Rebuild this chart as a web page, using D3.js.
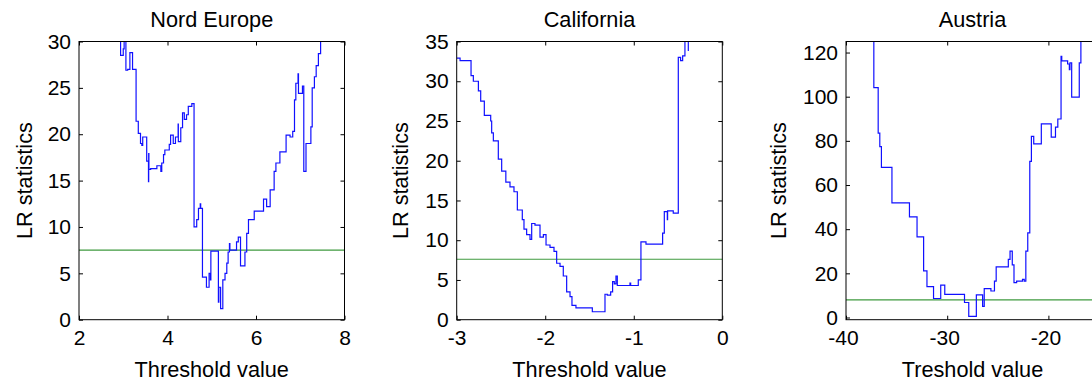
<!DOCTYPE html>
<html lang="en">
<head>
<meta charset="UTF-8">
<title>LR statistics</title>
<script src="https://d3js.org/d3.v7.min.js"></script>
<style>
  body { margin: 0; background: #fff; }
  svg text { font-family: "Liberation Sans", Arial, sans-serif; fill: #000; }
</style>
</head>
<body>
<div id="chart"></div>
<script>

// Nord Europe: threshold value / LR statistic (step values)
const neX = [2.94, 2.94, 3.00, 3.02, 3.06, 3.10, 3.15, 3.21, 3.27, 3.29, 3.34, 3.39, 3.42, 3.44, 3.53, 3.57, 3.575,
  3.58, 3.62, 3.76, 3.85, 3.87, 3.91, 3.94, 4.04, 4.07, 4.13, 4.18, 4.24, 4.245, 4.30, 4.34, 4.38, 4.43, 4.47,
  4.55, 4.60, 4.66, 4.70, 4.74, 4.75, 4.79, 4.88, 4.94, 4.97, 4.98, 5.15, 5.16, 5.20, 5.25, 5.30, 5.34, 5.37,
  5.40, 5.41, 5.56, 5.60, 5.65, 5.75, 5.79, 5.83, 5.96, 6.17, 6.24, 6.32, 6.41, 6.45, 6.54, 6.68, 6.77, 6.83,
  6.87, 6.90, 6.95, 6.96, 7.05, 7.08, 7.13, 7.24, 7.27, 7.32, 7.36, 7.41, 7.46];
const neY = [31, 28.5, 29.2, 31, 26.9, 27.0, 28.8, 27.0, 27.0, 21.4, 20.1, 19.0, 18.8, 19.7, 17.1, 14.9, 17.9,
  16.2, 16.3, 16.6, 16.0, 16.9, 17.8, 18.3, 18.9, 19.9, 19.0, 19.7, 21.1, 19.2, 20.7, 22.3, 21.6, 22.1, 23.0,
  23.3, 10.0, 10.8, 12.0, 12.5, 12.0, 4.6, 3.5, 5.0, 4.3, 7.4, 1.9, 3.5, 1.2, 4.3, 5.0, 6.1, 7.3,
  8.2, 7.5, 8.4, 8.9, 5.8, 7.3, 9.3, 10.8, 11.7, 13.0, 12.2, 14.0, 16.0, 16.9, 18.1, 19.9, 19.7, 20.3,
  23.7, 25.5, 26.5, 24.4, 25.2, 16.0, 19.0, 20.8, 25.0, 26.2, 27.4, 28.7, 31];

// California
const caX = [-3.0, -2.962, -2.838, -2.812, -2.755, -2.729, -2.688, -2.616, -2.605, -2.586, -2.530, -2.492, -2.445,
  -2.398, -2.353, -2.315, -2.259, -2.240, -2.210, -2.172, -2.153, -2.116, -2.059, -2.021, -1.991, -1.946, -1.901,
  -1.871, -1.833, -1.796, -1.758, -1.720, -1.698, -1.653, -1.468, -1.325, -1.299, -1.261, -1.239, -1.220, -1.201,
  -1.186, -1.043, -1.035, -0.949, -0.919, -0.862, -0.674, -0.655, -0.621, -0.618, -0.554, -0.497, -0.471, -0.448,
  -0.422, -0.384];
const caY = [32.9, 32.6, 30.7, 30.0, 28.8, 27.5, 25.7, 25.0, 23.5, 22.5, 20.2, 18.7, 17.3,
  16.7, 16.1, 13.8, 12.6, 11.4, 10.7, 10.1, 12.1, 11.9, 10.4, 10.7, 9.4, 9.1, 8.6,
  7.1, 6.7, 5.5, 3.5, 2.9, 1.8, 1.5, 1.0, 3.2, 3.1, 3.5, 4.8, 4.5, 5.5,
  4.3, 4.6, 4.3, 5.0, 9.8, 9.5, 10.9, 13.6, 12.6, 13.7, 13.4, 33.0, 32.6, 33.2,
  35.0, 33.8];

// Austria
const atX = [-37.25, -37.25, -36.82, -36.66, -36.50, -35.46, -33.73, -32.98, -32.33, -32.00, -31.35, -30.64, -30.24,
  -28.29, -27.87, -27.12, -26.50, -26.34, -25.68, -25.33, -25.16, -23.96, -23.79, -23.57, -23.40, -23.14, -22.56,
  -22.39, -22.23, -22.04, -21.84, -21.68, -21.45, -20.70, -19.72, -19.30, -19.07, -18.75, -18.68, -18.10, -17.93,
  -17.87, -17.70, -16.95, -16.79];
const atY = [130, 104.1, 83.5, 77.4, 68.0, 51.9, 45.6, 36.5, 21.1, 14.0, 8.6, 14.7, 10.5,
  6.8, 0.5, 10.2, 5.0, 13.1, 12.0, 16.5, 22.9, 26.3, 30.1, 23.8, 15.8, 16.5, 17.3,
  16.5, 30.1, 38.3, 70.7, 82.0, 78.6, 87.7, 81.7, 86.2, 89.9, 118.3, 116.2, 114.8, 112.3,
  115.3, 99.8, 115.3, 130];

const titles = ["Nord Europe", "California", "Austria"];
const xLabels = ["Threshold value", "Threshold value", "Treshold value"];
const critValues = [7.5, 7.6, 8.0];
const xDomains = [[2, 8], [-3, 0], [-40, -15]];
const yDomains = [[0, 30], [0, 35], [-1, 125]];
const xTickVals = [[2, 4, 6, 8], [-3, -2, -1, 0], [-40, -30, -20]];
const yTickVals = [[0, 5, 10, 15, 20, 25, 30], [0, 5, 10, 15, 20, 25, 30, 35], [0, 20, 40, 60, 80, 100, 120]];

const seriesX = [neX, caX, atX];
const seriesY = [neY, caY, atY];

// layout of the three axes boxes
const boxes = [
  { left: 79, right: 344.5 },
  { left: 456.7, right: 722.3 },
  { left: 846, right: 1099 }
];
const boxTop = 41.5, boxBottom = 319.7;

const svg = d3.select("#chart")
  .append("svg")
  .attr("width", 1092)
  .attr("height", 383);

boxes.forEach(function (b, i) {
  const w = b.right - b.left, h = boxBottom - boxTop;
  const g = svg.append("g").attr("transform", `translate(${b.left}, ${boxTop})`);

  const x = d3.scaleLinear().domain(xDomains[i]).range([0, w]);
  const y = d3.scaleLinear().domain(yDomains[i]).range([h, 0]);

  g.append("clipPath").attr("id", "clip" + i)
    .append("rect").attr("width", w).attr("height", h);

  // critical value line
  g.append("line")
    .attr("x1", 0).attr("x2", w)
    .attr("y1", y(critValues[i])).attr("y2", y(critValues[i]))
    .attr("stroke", "#3f9a3f")
    .attr("stroke-width", 1.1);

  const pts = seriesX[i].map((v, k) => [v, seriesY[i][k]]);
  const line = d3.line()
    .x(d => x(d[0]))
    .y(d => y(d[1]))
    .curve(d3.curveStepAfter);

  g.append("path")
    .datum(pts)
    .attr("clip-path", `url(#clip${i})`)
    .attr("fill", "none")
    .attr("stroke", "#1010ff")
    .attr("stroke-width", 1.2)
    .attr("d", line);

  // axes, ticks pointing inward on all four sides
  const xb = g.append("g").attr("transform", `translate(0, ${h})`)
    .call(d3.axisBottom(x).tickValues(xTickVals[i]).tickSizeInner(-4).tickSizeOuter(0).tickPadding(10.5));
  const yl = g.append("g")
    .call(d3.axisLeft(y).tickValues(yTickVals[i]).tickSizeInner(-4).tickSizeOuter(0).tickPadding(8));
  const xt = g.append("g")
    .call(d3.axisTop(x).tickValues(xTickVals[i]).tickSizeInner(-4).tickSizeOuter(0).tickFormat(""));
  const yr = g.append("g").attr("transform", `translate(${w}, 0)`)
    .call(d3.axisRight(y).tickValues(yTickVals[i]).tickSizeInner(-4).tickSizeOuter(0).tickFormat(""));

  [xb, yl, xt, yr].forEach(a => {
    a.select(".domain").remove();
    a.selectAll("line").attr("stroke", "#000");
    a.selectAll("text").attr("font-size", 21).attr("fill", "#000")
      .attr("font-family", "'Liberation Sans', Arial, sans-serif");
  });
  xb.selectAll("text").text(d => d < 0 ? "-" + Math.abs(d) : d);
  if (i === 2) xb.selectAll("text").attr("dx", -3);

  g.append("rect")
    .attr("width", w).attr("height", h)
    .attr("fill", "none")
    .attr("stroke", "#000")
    .attr("stroke-width", 1);

  g.append("text")
    .attr("x", w / 2).attr("y", 27.3 - boxTop)
    .attr("text-anchor", "middle")
    .attr("font-size", 21.7)
    .text(titles[i]);

  g.append("text")
    .attr("x", w / 2).attr("y", 376.5 - boxTop)
    .attr("text-anchor", "middle")
    .attr("font-size", 21.7)
    .text(xLabels[i]);

  g.append("text")
    .attr("transform", `translate(${[-47, -49, -60][i]}, ${h / 2}) rotate(-90)`)
    .attr("text-anchor", "middle")
    .attr("font-size", 21.7)
    .text("LR statistics");
});

</script>
</body>
</html>
